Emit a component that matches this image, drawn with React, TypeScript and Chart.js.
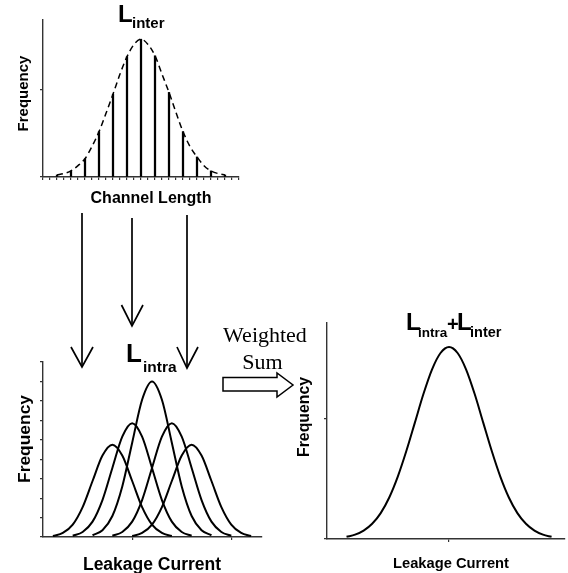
import React, { useEffect, useRef } from 'react';
import { Chart, registerables } from 'chart.js';

Chart.register(...registerables);

// ---------- Data ----------
// Top chart: inter-die channel length distribution (stems + dashed envelope)
const CHANNEL_TICKS = [0, 1, 2, 3, 4, 5, 6, 7, 8, 9, 10, 11, 12, 13, 14, 15, 16, 17, 18, 19, 20, 21, 22, 23, 24, 25, 26, 27, 28];
const CHANNEL_POS = [2, 4, 6, 8, 10, 12, 14, 16, 18, 20, 22, 24, 26];
const CHANNEL_FREQ = [0.023, 0.07, 0.21, 0.52, 0.95, 1.38, 1.58, 1.39, 0.97, 0.52, 0.23, 0.07, 0.023];
const ENVELOPE_X = [2, 3, 4, 5, 6, 7, 8, 9, 10, 11, 12, 13, 14, 15, 16, 17, 18, 19, 20, 21, 22, 23, 24, 25, 26];
const ENVELOPE_Y = [0.023, 0.04, 0.07, 0.13, 0.21, 0.35, 0.52, 0.73, 0.95, 1.18, 1.38, 1.52, 1.58, 1.52, 1.39, 1.18, 0.97, 0.74, 0.52, 0.35, 0.23, 0.13, 0.07, 0.04, 0.023];
const TOP_FREQ_TICKS = [0, 1];

// Bottom-left: intra-die leakage distributions (five curves)
const INTRA_FREQ_TICKS = [0, 1, 2, 3, 4, 5, 6, 7, 8, 9];
const LEAK_TICKS_LEFT = [1, 2];
const INTRA_X1 = [0.2, 0.3, 0.4, 0.5, 0.6, 0.7, 0.8, 0.9, 1.0, 1.1, 1.2, 1.3, 1.4];
const INTRA_Y1 = [0.05, 0.21, 0.64, 1.54, 2.88, 4.19, 4.75, 4.19, 2.88, 1.54, 0.64, 0.21, 0.05];
const INTRA_X2 = [0.4, 0.5, 0.6, 0.7, 0.8, 0.9, 1.0, 1.1, 1.2, 1.3, 1.4, 1.5, 1.6];
const INTRA_Y2 = [0.065, 0.26, 0.79, 1.9, 3.55, 5.16, 5.85, 5.16, 3.55, 1.9, 0.79, 0.26, 0.065];
const INTRA_X3 = [0.6, 0.7, 0.8, 0.9, 1.0, 1.1, 1.2, 1.3, 1.4, 1.5, 1.6, 1.7, 1.8];
const INTRA_Y3 = [0.09, 0.35, 1.08, 2.6, 4.85, 7.06, 8.0, 7.06, 4.85, 2.6, 1.08, 0.35, 0.09];
const INTRA_X4 = [0.8, 0.9, 1.0, 1.1, 1.2, 1.3, 1.4, 1.5, 1.6, 1.7, 1.8, 1.9, 2.0];
const INTRA_Y4 = [0.065, 0.26, 0.79, 1.9, 3.55, 5.16, 5.85, 5.16, 3.55, 1.9, 0.79, 0.26, 0.065];
const INTRA_X5 = [1.0, 1.1, 1.2, 1.3, 1.4, 1.5, 1.6, 1.7, 1.8, 1.9, 2.0, 2.1, 2.2];
const INTRA_Y5 = [0.05, 0.21, 0.64, 1.54, 2.88, 4.19, 4.75, 4.19, 2.88, 1.54, 0.64, 0.21, 0.05];

// Bottom-right: combined distribution
const TOTAL_FREQ_TICKS = [0, 1];
const LEAK_TICKS_RIGHT = [1];
const TOTAL_X = [0.16, 0.23, 0.30, 0.37, 0.44, 0.51, 0.58, 0.65, 0.72, 0.79, 0.86, 0.93, 1.0, 1.07, 1.14, 1.21, 1.28, 1.35, 1.42, 1.49, 1.56, 1.63, 1.70, 1.77, 1.84];
const TOTAL_Y = [0.018, 0.036, 0.07, 0.127, 0.216, 0.346, 0.52, 0.733, 0.97, 1.208, 1.412, 1.55, 1.6, 1.55, 1.412, 1.208, 0.97, 0.733, 0.52, 0.346, 0.216, 0.127, 0.07, 0.036, 0.018];

// ---------- Helpers ----------
const AXIS = '#333';
const W = 568;
const H = 573;
const SANS = '"Liberation Sans", Arial, sans-serif';
const SERIF = '"Liberation Serif", "Times New Roman", serif';

const zip = (xs: number[], ys: number[]) => xs.map((x, i) => ({ x, y: ys[i] }));

function axis(min: number, max: number, ticks: number[], position: 'left' | 'bottom') {
  return {
    type: 'linear' as const,
    position,
    min,
    max,
    offset: false,
    afterBuildTicks: (s: any) => {
      s.ticks = ticks.map((v) => ({ value: v }));
    },
    afterFit: (s: any) => {
      if (position === 'left') s.width = 6;
      else s.height = 6;
    },
    ticks: { display: false },
    grid: {
      display: true,
      drawOnChartArea: false,
      drawTicks: true,
      tickLength: 3,
      color: AXIS,
      lineWidth: 1.2,
      offset: false,
    },
    border: { display: true, color: AXIS, width: 1.4 },
    title: { display: false },
  };
}

function baseOptions(pad: { left: number; top: number; right: number; bottom: number }, scales: any) {
  return {
    responsive: false,
    animation: false as const,
    events: [],
    layout: { padding: pad },
    plugins: { legend: { display: false }, title: { display: false }, tooltip: { enabled: false } },
    scales,
  };
}

const curve = (xs: number[], ys: number[], extra: any = {}) => ({
  type: 'line' as const,
  data: zip(xs, ys),
  borderColor: '#000',
  borderWidth: 2,
  pointRadius: 0,
  fill: false,
  cubicInterpolationMode: 'monotone' as const,
  ...extra,
});

export default function App() {
  const c1 = useRef<HTMLCanvasElement>(null);
  const c2 = useRef<HTMLCanvasElement>(null);
  const c3 = useRef<HTMLCanvasElement>(null);

  useEffect(() => {
    const charts: Chart[] = [];
    if (c1.current) {
      charts.push(
        new Chart(c1.current, {
          type: 'bar',
          data: {
            datasets: [
              {
                type: 'bar',
                data: zip(CHANNEL_POS, CHANNEL_FREQ),
                backgroundColor: '#000',
                borderWidth: 0,
                barThickness: 1.6,
              } as any,
              curve(ENVELOPE_X, ENVELOPE_Y, { borderDash: [6, 4], borderWidth: 1.5 }),
            ],
          },
          options: baseOptions({ left: 37, top: 20, right: W - 239, bottom: H - 177 - 6 }, {
            x: axis(0, 28, CHANNEL_TICKS, 'bottom'),
            y: axis(0, 1.8, TOP_FREQ_TICKS, 'left'),
          }) as any,
        })
      );
    }
    if (c2.current) {
      charts.push(
        new Chart(c2.current, {
          type: 'line',
          data: {
            datasets: [
              curve(INTRA_X1, INTRA_Y1),
              curve(INTRA_X2, INTRA_Y2),
              curve(INTRA_X3, INTRA_Y3),
              curve(INTRA_X4, INTRA_Y4),
              curve(INTRA_X5, INTRA_Y5),
            ],
          },
          options: baseOptions({ left: 37, top: 362, right: W - 262, bottom: H - 537 - 6 }, {
            x: axis(0.1, 2.31, LEAK_TICKS_LEFT, 'bottom'),
            y: axis(0, 9, INTRA_FREQ_TICKS, 'left'),
          }) as any,
        })
      );
    }
    if (c3.current) {
      charts.push(
        new Chart(c3.current, {
          type: 'line',
          data: { datasets: [curve(TOTAL_X, TOTAL_Y)] },
          options: baseOptions({ left: 321, top: 323, right: W - 565, bottom: H - 539 - 6 }, {
            x: axis(0, 1.95, LEAK_TICKS_RIGHT, 'bottom'),
            y: axis(0, 1.8, TOTAL_FREQ_TICKS, 'left'),
          }) as any,
        })
      );
    }
    return () => charts.forEach((c) => c.destroy());
  }, []);

  const canvasStyle: React.CSSProperties = { position: 'absolute', left: 0, top: 0 };

  return (
    <div style={{ position: 'absolute', left: 0, top: 0, width: W, height: H, background: '#fff', overflow: 'hidden' }}>
      <canvas ref={c1} width={W} height={H} style={canvasStyle} />
      <canvas ref={c2} width={W} height={H} style={canvasStyle} />
      <canvas ref={c3} width={W} height={H} style={canvasStyle} />
      <svg width={W} height={H} style={{ position: 'absolute', left: 0, top: 0, pointerEvents: 'none' }}>
        <g fontFamily={SANS} fontWeight="bold" fill="#000">
          {/* top chart */}
          <text x={118} y={22} fontSize={24}>L</text>
          <text x={132} y={28} fontSize={15}>inter</text>
          <text transform="translate(28,93.5) rotate(-90)" textAnchor="middle" fontSize={15}>Frequency</text>
          <text x={151} y={203} textAnchor="middle" fontSize={16}>Channel Length</text>
          {/* bottom-left chart */}
          <text x={126} y={362} fontSize={26}>L</text>
          <text x={143} y={372} fontSize={15.5}>intra</text>
          <text transform="translate(30,439) rotate(-90)" textAnchor="middle" fontSize={17.4}>Frequency</text>
          <text x={152} y={570} textAnchor="middle" fontSize={17.5}>Leakage Current</text>
          {/* bottom-right chart */}
          <text x={406} y={330} fontSize={24}>L</text>
          <text x={418} y={337} fontSize={13.5}>intra</text>
          <text x={447} y={331} fontSize={20}>+</text>
          <text x={457} y={330} fontSize={24}>L</text>
          <text x={470} y={337} fontSize={14.5}>inter</text>
          <text transform="translate(308.5,417) rotate(-90)" textAnchor="middle" fontSize={15.8}>Frequency</text>
          <text x={451} y={568} textAnchor="middle" fontSize={14.7}>Leakage Current</text>
        </g>
        <g fontFamily={SERIF} fill="#000" fontSize={22} textAnchor="middle">
          <text x={265} y={342}>Weighted</text>
          <text x={262.5} y={369}>Sum</text>
        </g>
        <g stroke="#000" strokeWidth={1.7} fill="none" strokeLinejoin="miter">
          <line x1={82} y1={213} x2={82} y2={366} />
          <polyline points="71,347 82,367 93,347" />
          <line x1={132} y1={218} x2={132} y2={325} />
          <polyline points="121.5,305 132,326 143,305" />
          <line x1={187} y1={215} x2={187} y2={367} />
          <polyline points="177,347 187,368 198,347" />
          <polygon points="223,377.5 277,377.5 277,373 293,385 277,397 277,391 223,391" fill="#fff" strokeWidth={1.5} />
        </g>
      </svg>
    </div>
  );
}
